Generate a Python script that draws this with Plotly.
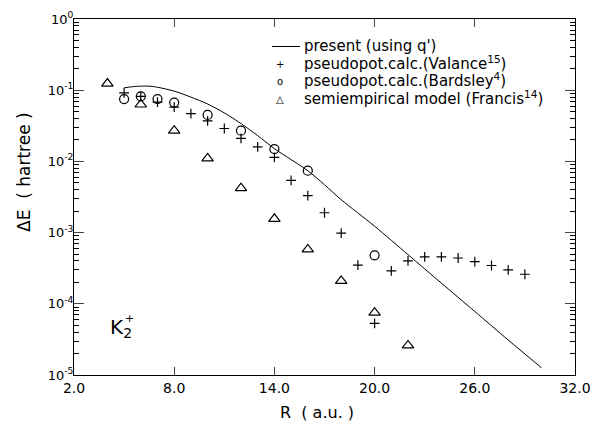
import plotly.graph_objects as go

# present calculation (using q')
present_R = [5, 5.5, 6, 6.5, 7, 8, 9, 10, 11, 12, 13, 14, 15, 16, 17, 18, 20, 22, 24, 26, 28, 30]
present_E = [0.108, 0.112, 0.114, 0.114, 0.110, 0.097, 0.080, 0.064, 0.048, 0.034, 0.023,
             0.0151, 0.0106, 0.0074, 0.0047, 0.0029, 0.00123, 0.00049, 0.000195, 7.8e-5, 3.1e-5, 1.26e-5]

# pseudopotential calc. (Valance)
valance_R = [5, 6, 7, 8, 9, 10, 11, 12, 13, 14, 15, 16, 17, 18, 19, 20, 21, 22, 23, 24, 25, 26, 27, 28, 29]
valance_E = [0.092, 0.082, 0.068, 0.058, 0.047, 0.037, 0.029, 0.021, 0.016, 0.0114, 0.0054, 0.0033,
             0.0019, 0.00098, 0.00035, 5.3e-5, 0.00029, 0.00040, 0.000455, 0.000455, 0.00044,
             0.00039, 0.000345, 0.00030, 0.00026]

# pseudopotential calc. (Bardsley)
bardsley_R = [5, 6, 7, 8, 10, 12, 14, 16, 20]
bardsley_E = [0.075, 0.082, 0.075, 0.067, 0.045, 0.027, 0.0149, 0.0074, 0.00048]

# semiempirical model (Francis)
francis_R = [4, 6, 8, 10, 12, 14, 16, 18, 20, 22]
francis_E = [0.124, 0.063, 0.027, 0.011, 0.0042, 0.00156, 0.00058, 0.00021, 7.5e-5, 2.6e-5]

x_ticks = [2, 8, 14, 20, 26, 32]
x_ticktext = ["2.0", "8.0", "14.0", "20.0", "26.0", "32.0"]
y_ticks = [1, 0.1, 0.01, 0.001, 1e-4, 1e-5]
y_ticktext = ["10<sup>0</sup>", "10<sup>-1</sup>", "10<sup>-2</sup>", "10<sup>-3</sup>",
              "10<sup>-4</sup>", "10<sup>-5</sup>"]

legend_names = ["present (using q')", "pseudopot.calc.(Valance<sup>15</sup>)",
                "pseudopot.calc.(Bardsley<sup>4</sup>)", "semiempirical model (Francis<sup>14</sup>)"]
legend_symbols = [None, "+", "o", "△"]

FONT = "DejaVu Sans"

# plot-area geometry in pixels (for placing free text)
W, H = 594, 434
L, R, T, B = 74, 19, 19, 59
PW, PH = W - L - R, H - T - B


def px(x):
    return (x - L) / PW


def py(y):
    return (H - B - y) / PH


fig = go.Figure()
fig.add_trace(go.Scatter(x=present_R, y=present_E, mode="lines",
                         line=dict(color="black", width=1, shape="spline", smoothing=0.8),
                         name=legend_names[0]))
fig.add_trace(go.Scatter(x=valance_R, y=valance_E, mode="markers",
                         marker=dict(symbol="cross-thin", size=7, color="black", line=dict(color="black", width=1.2)),
                         name=legend_names[1]))
fig.add_trace(go.Scatter(x=bardsley_R, y=bardsley_E, mode="markers",
                         marker=dict(symbol="circle-open", size=9, color="black", line=dict(color="black", width=1.2)),
                         name=legend_names[2]))
fig.add_trace(go.Scatter(x=francis_R, y=francis_E, mode="markers",
                         marker=dict(symbol="triangle-up-open", size=10, color="black", line=dict(color="black", width=1.2)),
                         name=legend_names[3]))

# legend drawn as text, in the style of the original figure
row_y = [45.5, 63, 80.5, 98]
for name, sym, yy in zip(legend_names, legend_symbols, row_y):
    fig.add_annotation(x=px(302), y=py(yy), xref="paper", yref="paper", text=name, showarrow=False,
                       xanchor="left", yanchor="middle", font=dict(family=FONT, size=15, color="black"))
    if sym is None:
        fig.add_shape(type="line", xref="paper", yref="paper", x0=px(272), x1=px(300),
                      y0=py(yy + 1), y1=py(yy + 1), line=dict(color="black", width=1))
    else:
        fig.add_annotation(x=px(280), y=py(yy + 1), xref="paper", yref="paper", text=sym, showarrow=False,
                           xanchor="center", yanchor="middle", font=dict(family=FONT, size=10, color="black"))

# K2+ label
fig.add_annotation(x=px(108), y=py(328), xref="paper", yref="paper", text="K<sub>2</sub>",
                   showarrow=False, font=dict(family=FONT, size=20, color="black"),
                   xanchor="left", yanchor="middle")
fig.add_annotation(x=px(129), y=py(318), xref="paper", yref="paper", text="+",
                   showarrow=False, font=dict(family=FONT, size=11, color="black"),
                   xanchor="center", yanchor="middle")

# axis titles
fig.add_annotation(x=px(317), y=py(412), xref="paper", yref="paper", text="R  ( a.u. )",
                   showarrow=False, font=dict(family=FONT, size=16, color="black"),
                   xanchor="center", yanchor="middle")
fig.add_annotation(x=px(24), y=py(172), xref="paper", yref="paper", text="ΔE  ( hartree )",
                   showarrow=False, textangle=-90, font=dict(family=FONT, size=17, color="black"),
                   xanchor="center", yanchor="middle")

fig.update_layout(
    width=W, height=H,
    margin=dict(l=L, r=R, t=T, b=B),
    paper_bgcolor="white", plot_bgcolor="white",
    font=dict(family=FONT, size=13, color="black"),
    showlegend=False,
    yaxis2=dict(type="log", range=[-5, 0], overlaying="y", side="right", showticklabels=False,
                ticks="inside", ticklen=10, tickvals=y_ticks, showgrid=False, zeroline=False,
                showline=False, automargin=False,
                minor=dict(ticks="inside", ticklen=5, dtick="D1", showgrid=False, tickcolor="black")),
)
fig.update_xaxes(range=[2, 32], tickvals=x_ticks, ticktext=x_ticktext, ticks="inside", ticklen=8,
                 showline=True, linecolor="black", linewidth=1, mirror="ticks", showgrid=False, zeroline=False,
                 automargin=False, tickfont=dict(family=FONT, size=14))
fig.layout.yaxis.update(type="log", range=[-5, 0], tickvals=y_ticks, ticktext=y_ticktext, ticks="inside",
                        ticklen=10, showline=True, linecolor="black", linewidth=1, mirror="ticks",
                        showgrid=False, zeroline=False, automargin=False, ticklabelstandoff=-3,
                        minor=dict(ticks="inside", ticklen=5, dtick="D1", showgrid=False, tickcolor="black"),
                        tickfont=dict(family=FONT, size=13))

fig.write_html("out.html", config={"displayModeBar": False},
               post_script="document.body.style.margin='0';document.body.style.overflow='hidden';")
